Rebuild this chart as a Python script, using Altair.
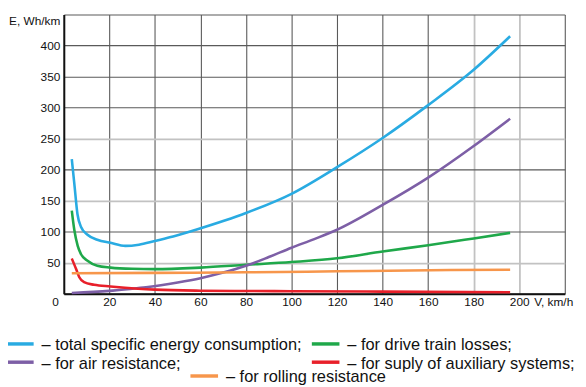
import altair as alt
import pandas as pd

FONT = "Liberation Sans"

series_names = [
    "total specific energy consumption",
    "for drive train losses",
    "for air resistance",
    "for suply of auxiliary systems",
    "for rolling resistance",
]
legend_labels = [
    "\u2013 total specific energy consumption;",
    "\u2013 for drive train losses;",
    "\u2013 for air resistance;",
    "\u2013 for suply of auxiliary systems;",
    "\u2013 for rolling resistance",
]
series_colors = ["#29abe2", "#1fa84a", "#7d5fa6", "#e8202a", "#f7964b"]

speed_total = [3.5, 4.6, 6.0, 7.5, 10.4, 14.7, 20.5, 27, 33, 40, 48, 58, 80, 100, 120, 140, 160, 180, 196]
energy_total = [217, 178, 128, 108, 95, 87, 82, 77, 79, 85, 92, 103, 130, 161, 204, 251, 304, 361, 415]

speed_drive = [3.5, 4.6, 6.1, 7.5, 10.4, 14.7, 20.5, 30, 40, 60, 80, 100, 120, 140, 160, 180, 196]
energy_drive = [134, 103, 77, 64, 53, 45, 42, 40, 39.5, 42, 46.5, 51, 57, 68, 78, 89, 98]

speed_air = [3.5, 20, 30, 37, 50, 60, 70, 80, 90, 100, 110, 120, 140, 160, 180, 196]
energy_air = [1, 4.5, 8, 10.6, 18, 25, 34, 45, 59, 74, 88, 103, 143, 187, 238, 282]

speed_aux = [3.5, 5.4, 6.8, 8.9, 13.3, 20.5, 32.6, 40, 60, 80, 100, 140, 196]
energy_aux = [56.6, 39.7, 26.5, 18.5, 14.3, 11.6, 8, 6.5, 4.8, 4.3, 4, 3.3, 2.3]

speed_roll = [3.5, 40, 80, 120, 170, 196]
energy_roll = [32.8, 33.5, 34.4, 36, 38, 38.6]

x_ticks = [0, 20, 40, 60, 80, 100, 120, 140, 160, 180, 200, 220]
y_ticks = [0, 50, 100, 150, 200, 250, 300, 350, 400, 450]

# legend layout, in pixels relative to the plot area's top-left corner
legend_x1 = [-58.6, 251.5, -58.6, 251.5, 128.4]
legend_row_y = [334, 334, 352.5, 352.5, 366.5]

PLOT_W, PLOT_H = 508, 283

rows = []
for name, sp, en in [
    (series_names[0], speed_total, energy_total),
    (series_names[1], speed_drive, energy_drive),
    (series_names[2], speed_air, energy_air),
    (series_names[3], speed_aux, energy_aux),
    (series_names[4], speed_roll, energy_roll),
]:
    for v, e in zip(sp, en):
        rows.append({"series": name, "v": v, "e": e})
df = pd.DataFrame(rows)

color_scale = alt.Scale(domain=series_names, range=series_colors)

x_light = "datum.value == 180 || datum.value == 200"
y_light = "datum.value == 50 || datum.value == 150 || datum.value == 250"

x_axis = alt.Axis(
    values=x_ticks,
    labelExpr="datum.value == 220 ? '' : datum.label",
    ticks=False,
    labelPadding=3,
    labelFont=FONT,
    labelFontSize=12,
    labelColor="#111",
    labelOffset={"condition": {"test": "datum.value == 0", "value": -9}, "value": 0},
    labelFlush=False,
    domainColor="#111",
    domainWidth=2,
    gridColor={"condition": {"test": x_light, "value": "#c2c2c2"}, "value": "#5a5a5a"},
    gridWidth={"condition": {"test": x_light, "value": 1.8}, "value": 1.1},
    title="V, km/h",
    titleFont=FONT,
    titleFontSize=12,
    titleFontWeight="normal",
    titleColor="#111",
    titleAlign="left",
    titleBaseline="top",
    titleX=476.5,
    titleY=3,
)

y_axis = alt.Axis(
    values=y_ticks,
    labelExpr="(datum.value == 0 || datum.value == 450) ? '' : datum.label",
    ticks=False,
    labelPadding=4,
    labelFont=FONT,
    labelFontSize=12,
    labelColor="#111",
    domainColor="#111",
    domainWidth=2,
    gridColor={"condition": {"test": y_light, "value": "#c2c2c2"}, "value": "#5a5a5a"},
    gridWidth={"condition": {"test": y_light, "value": 1.8}, "value": 1.1},
    title="E, Wh/km",
    titleFont=FONT,
    titleFontSize=12,
    titleFontWeight="normal",
    titleColor="#111",
    titleAngle=0,
    titleAlign="right",
    titleBaseline="middle",
    titleX=-4,
    titleY=6,
)

lines = alt.Chart(df).mark_line(strokeWidth=2.6, interpolate="monotone").encode(
    x=alt.X("v:Q", scale=alt.Scale(domain=[0, 220], nice=False), axis=x_axis),
    y=alt.Y("e:Q", scale=alt.Scale(domain=[0, 450], nice=False), axis=y_axis),
    color=alt.Color("series:N", scale=color_scale, legend=None),
    order=alt.Order("v:Q"),
)

leg_df = pd.DataFrame({
    "series": series_names,
    "x1": legend_x1,
    "x2": [x + 28 for x in legend_x1],
    "tx": [x + 36 for x in legend_x1],
    "y": legend_row_y,
    "label": legend_labels,
})

lx = alt.Scale(domain=[0, PLOT_W], nice=False, zero=False)
ly = alt.Scale(domain=[0, PLOT_H], nice=False, zero=False, reverse=True)

leg_lines = alt.Chart(leg_df).mark_rule(strokeWidth=3.5).encode(
    x=alt.X("x1:Q", scale=lx, axis=None),
    x2="x2:Q",
    y=alt.Y("y:Q", scale=ly, axis=None),
    color=alt.Color("series:N", scale=color_scale, legend=None),
)
leg_text = alt.Chart(leg_df).mark_text(
    align="left", baseline="middle", font=FONT, fontSize=16.6, color="#111", dy=1.5
).encode(
    x=alt.X("tx:Q", scale=lx, axis=None),
    y=alt.Y("y:Q", scale=ly, axis=None),
    text="label:N",
)
legend = alt.layer(leg_lines, leg_text)

chart = alt.layer(lines, legend).resolve_scale(
    x="independent", y="independent"
).properties(
    width=PLOT_W,
    height=PLOT_H,
    autosize=alt.AutoSizeParams(type="none"),
    padding={"left": 56.6, "top": 4, "right": 13.4, "bottom": 92},
).configure_view(stroke=None)

chart.save("out.html", embed_options={"renderer": "svg", "actions": False})
